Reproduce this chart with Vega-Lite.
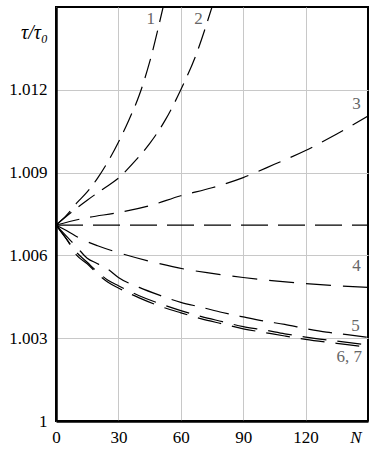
{
  "$schema": "https://vega.github.io/schema/vega-lite/v6.json",
  "width": 312,
  "height": 414,
  "autosize": {"type": "none"},
  "padding": {"left": 56, "top": 7, "right": 6, "bottom": 30},
  "background": "white",
  "config": {
    "view": {"stroke": "black", "strokeWidth": 2},
    "font": "Liberation Serif",
    "axis": {
      "labelFont": "Liberation Serif",
      "labelFontSize": 17,
      "labelColor": "black",
      "gridColor": "#c8c8c8",
      "gridWidth": 1,
      "ticks": false,
      "domainColor": "black",
      "domainWidth": 2.5
    }
  },
  "datasets": {
    "curves": [
      {"curve": "1", "N": 0, "v": 1.0071}, {"curve": "1", "N": 5, "v": 1.00745}, {"curve": "1", "N": 10, "v": 1.0079},
      {"curve": "1", "N": 15, "v": 1.0083}, {"curve": "1", "N": 20, "v": 1.0088}, {"curve": "1", "N": 25, "v": 1.0094},
      {"curve": "1", "N": 30, "v": 1.0101}, {"curve": "1", "N": 35, "v": 1.0109}, {"curve": "1", "N": 40, "v": 1.0118},
      {"curve": "1", "N": 45, "v": 1.013}, {"curve": "1", "N": 51.5, "v": 1.015},
      {"curve": "2", "N": 0, "v": 1.0071}, {"curve": "2", "N": 7.5, "v": 1.00757}, {"curve": "2", "N": 15, "v": 1.008},
      {"curve": "2", "N": 22.5, "v": 1.0084}, {"curve": "2", "N": 30, "v": 1.0088}, {"curve": "2", "N": 37.5, "v": 1.00938},
      {"curve": "2", "N": 45, "v": 1.01005}, {"curve": "2", "N": 52.5, "v": 1.0109}, {"curve": "2", "N": 60, "v": 1.012},
      {"curve": "2", "N": 67.5, "v": 1.0133}, {"curve": "2", "N": 75, "v": 1.015},
      {"curve": "3", "N": 0, "v": 1.0071}, {"curve": "3", "N": 15, "v": 1.00737}, {"curve": "3", "N": 30, "v": 1.00755},
      {"curve": "3", "N": 45, "v": 1.0078}, {"curve": "3", "N": 60, "v": 1.00816}, {"curve": "3", "N": 75, "v": 1.00845},
      {"curve": "3", "N": 90, "v": 1.00882}, {"curve": "3", "N": 105, "v": 1.0093}, {"curve": "3", "N": 120, "v": 1.0098},
      {"curve": "3", "N": 135, "v": 1.0104}, {"curve": "3", "N": 150, "v": 1.01105},
      {"curve": "h", "N": 0, "v": 1.0071}, {"curve": "h", "N": 150, "v": 1.0071},
      {"curve": "4", "N": 0, "v": 1.0071}, {"curve": "4", "N": 5, "v": 1.0069}, {"curve": "4", "N": 12, "v": 1.0066},
      {"curve": "4", "N": 20, "v": 1.00635}, {"curve": "4", "N": 30, "v": 1.0061}, {"curve": "4", "N": 47, "v": 1.00575},
      {"curve": "4", "N": 62, "v": 1.0055}, {"curve": "4", "N": 75, "v": 1.00535}, {"curve": "4", "N": 90, "v": 1.0052},
      {"curve": "4", "N": 105, "v": 1.00508}, {"curve": "4", "N": 120, "v": 1.00498}, {"curve": "4", "N": 135, "v": 1.0049},
      {"curve": "4", "N": 150, "v": 1.00484},
      {"curve": "5", "N": 0, "v": 1.0071}, {"curve": "5", "N": 5, "v": 1.0067}, {"curve": "5", "N": 10, "v": 1.0063},
      {"curve": "5", "N": 15, "v": 1.0059}, {"curve": "5", "N": 20, "v": 1.0057}, {"curve": "5", "N": 25, "v": 1.0055},
      {"curve": "5", "N": 30, "v": 1.0052}, {"curve": "5", "N": 40, "v": 1.00484}, {"curve": "5", "N": 50, "v": 1.00455},
      {"curve": "5", "N": 60, "v": 1.0043}, {"curve": "5", "N": 70, "v": 1.00412}, {"curve": "5", "N": 80, "v": 1.00393},
      {"curve": "5", "N": 90, "v": 1.00377}, {"curve": "5", "N": 100, "v": 1.00362}, {"curve": "5", "N": 110, "v": 1.0035},
      {"curve": "5", "N": 120, "v": 1.00335}, {"curve": "5", "N": 130, "v": 1.00322}, {"curve": "5", "N": 140, "v": 1.00313},
      {"curve": "5", "N": 150, "v": 1.00303},
      {"curve": "6", "N": 0, "v": 1.0071}, {"curve": "6", "N": 5, "v": 1.0066}, {"curve": "6", "N": 10, "v": 1.0061},
      {"curve": "6", "N": 15, "v": 1.00575}, {"curve": "6", "N": 20, "v": 1.0054}, {"curve": "6", "N": 25, "v": 1.0051},
      {"curve": "6", "N": 30, "v": 1.0049}, {"curve": "6", "N": 40, "v": 1.00454}, {"curve": "6", "N": 50, "v": 1.00425},
      {"curve": "6", "N": 60, "v": 1.004}, {"curve": "6", "N": 70, "v": 1.00378}, {"curve": "6", "N": 80, "v": 1.0036},
      {"curve": "6", "N": 90, "v": 1.00342}, {"curve": "6", "N": 100, "v": 1.0033}, {"curve": "6", "N": 110, "v": 1.00316},
      {"curve": "6", "N": 120, "v": 1.00304}, {"curve": "6", "N": 130, "v": 1.00294}, {"curve": "6", "N": 140, "v": 1.00285},
      {"curve": "6", "N": 150, "v": 1.00275},
      {"curve": "7", "N": 0, "v": 1.0071}, {"curve": "7", "N": 5, "v": 1.0066}, {"curve": "7", "N": 10, "v": 1.006},
      {"curve": "7", "N": 15, "v": 1.0057}, {"curve": "7", "N": 20, "v": 1.00533}, {"curve": "7", "N": 25, "v": 1.00503},
      {"curve": "7", "N": 30, "v": 1.00482}, {"curve": "7", "N": 40, "v": 1.00446}, {"curve": "7", "N": 50, "v": 1.00416},
      {"curve": "7", "N": 60, "v": 1.00392}, {"curve": "7", "N": 70, "v": 1.0037}, {"curve": "7", "N": 80, "v": 1.00352},
      {"curve": "7", "N": 90, "v": 1.00334}, {"curve": "7", "N": 100, "v": 1.00321}, {"curve": "7", "N": 110, "v": 1.00308},
      {"curve": "7", "N": 120, "v": 1.00296}, {"curve": "7", "N": 130, "v": 1.00286}, {"curve": "7", "N": 140, "v": 1.00277},
      {"curve": "7", "N": 150, "v": 1.00267}
    ],
    "labels": [
      {"text": "1", "N": 45.5, "v": 1.01455},
      {"text": "2", "N": 68.5, "v": 1.01455},
      {"text": "3", "N": 144.5, "v": 1.01148},
      {"text": "4", "N": 144.5, "v": 1.00561},
      {"text": "5", "N": 144, "v": 1.00345},
      {"text": "6, 7", "N": 141, "v": 1.00233}
    ]
  },
  "layer": [
    {
      "data": {"name": "curves"},
      "mark": {"type": "line", "interpolate": "monotone", "color": "black", "clip": true},
      "encoding": {
        "x": {
          "field": "N", "type": "quantitative",
          "scale": {"domain": [0, 150], "nice": false, "zero": false},
          "axis": {
            "title": null,
            "values": [0, 30, 60, 90, 120, 144],
            "labelExpr": "datum.value == 144 ? 'N' : datum.label",
            "labelFontStyle": {"condition": {"test": "datum.value == 144", "value": "italic"}, "value": "normal"},
            "gridOpacity": {"condition": {"test": "datum.value == 144", "value": 0}, "value": 1},
            "labelPadding": 8,
            "labelFlush": false
          }
        },
        "y": {
          "field": "v", "type": "quantitative",
          "scale": {"domain": [1, 1.015], "nice": false, "zero": false},
          "axis": {
            "values": [1, 1.003, 1.006, 1.009, 1.012],
            "format": ".3~f",
            "labelPadding": 9,
            "labelFlush": false,
            "title": "τ/τ₀",
            "titleAngle": 0,
            "titleFont": "Liberation Serif",
            "titleFontStyle": "italic",
            "titleFontWeight": "normal",
            "titleFontSize": 20,
            "titleAlign": "center",
            "titleBaseline": "middle",
            "titleX": -22,
            "titleY": 25
          }
        },
        "detail": {"field": "curve"},
        "strokeDash": {
          "field": "curve", "type": "nominal", "legend": null,
          "scale": {
            "domain": ["1", "2", "3", "h", "4", "5", "6", "7"],
            "range": [[20, 9], [20, 9], [24, 11], [27, 10], [25, 12], [24, 11], [24, 11], [24, 11]]
          }
        },
        "strokeWidth": {
          "field": "curve", "type": "nominal", "legend": null,
          "scale": {
            "domain": ["1", "2", "3", "h", "4", "5", "6", "7"],
            "range": [1.2, 1.2, 1.2, 2.2, 1.3, 1.5, 1.5, 1.5]
          }
        }
      }
    },
    {
      "data": {"name": "labels"},
      "mark": {"type": "text", "font": "Liberation Serif", "fontSize": 17, "color": "#666666", "align": "center", "baseline": "middle"},
      "encoding": {
        "x": {"field": "N", "type": "quantitative"},
        "y": {"field": "v", "type": "quantitative"},
        "text": {"field": "text"}
      }
    }
  ]
}
